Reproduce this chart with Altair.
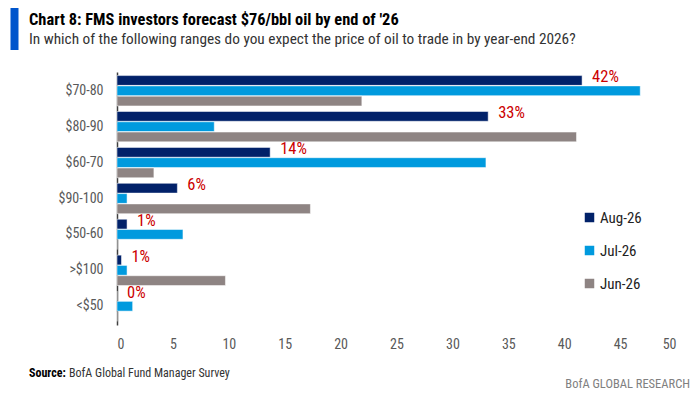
import altair as alt
import pandas as pd

categories = ["$70-80", "$80-90", "$60-70", "$90-100", "$50-60", ">$100", "<$50"]
series = ["Aug-26", "Jul-26", "Jun-26"]
aug = [41.6, 33.2, 13.7, 5.4, 0.9, 0.4, 0.0]
jul = [46.8, 8.7, 33.0, 0.9, 5.9, 0.9, 1.4]
jun = [21.9, 41.1, 3.3, 17.3, 0.0, 9.7, 0.0]
aug_labels = ["42%", "33%", "14%", "6%", "1%", "1%", "0%"]
colors = ["#012169", "#009ADE", "#8E8483"]

title_text = "Chart 8: FMS investors forecast $76/bbl oil by end of '26"
subtitle_text = "In which of the following ranges do you expect the price of oil to trade in by year-end 2026?"

FONT = "Liberation Sans Narrow, Roboto Condensed, Arial Narrow, Liberation Sans, sans-serif"

rows = []
for s, vals in zip(series, [aug, jul, jun]):
    for c, v in zip(categories, vals):
        rows.append({"category": c, "series": s, "value": v})
df = pd.DataFrame(rows)
lab = pd.DataFrame({"category": categories, "series": ["Aug-26"] * len(categories),
                    "value": aug, "label": aug_labels})

y_enc = alt.Y("category:N", sort=categories, title=None,
              scale=alt.Scale(paddingInner=0.155, paddingOuter=0.1),
              axis=alt.Axis(ticks=False, domainColor="#404040", domainWidth=1.5,
                            labelColor="#595959", labelFontSize=14, labelPadding=14,
                            labelFont=FONT))
yoff = alt.YOffset("series:N", sort=series, scale=alt.Scale(paddingInner=0.05))
x_enc = alt.X("value:Q", scale=alt.Scale(domain=[0, 50], nice=False), title=None,
              axis=alt.Axis(values=list(range(0, 51, 5)), grid=False, domain=False,
                            ticks=False, labelPadding=12, labelFontSize=14,
                            labelColor="#595959", labelFont=FONT))

bars = alt.Chart(df).mark_bar(stroke="#ffffff", strokeWidth=0.5).encode(
    y=y_enc, yOffset=yoff, x=x_enc,
    color=alt.Color("series:N", sort=series,
                    scale=alt.Scale(domain=series, range=colors),
                    legend=alt.Legend(title=None, orient="none", legendX=465, legendY=138,
                                      symbolType="square", symbolSize=90,
                                      symbolStrokeWidth=0, labelFontSize=15,
                                      labelFont=FONT, labelColor="#222222",
                                      labelOffset=3, rowPadding=17)),
)

labels = alt.Chart(lab).mark_text(align="left", baseline="middle", dx=10, dy=-3,
                                  color="#CC0000", fontSize=16.5, font=FONT).encode(
    y=alt.Y("category:N", sort=categories), yOffset=alt.YOffset("series:N", sort=series),
    x=alt.X("value:Q"), text="label:N")

one = pd.DataFrame({"a": [1]})
blue_bar = alt.Chart(one).mark_rule(color="#0055CC", strokeWidth=8).encode(
    x=alt.value(-102.5), y=alt.value(-65), y2=alt.value(-22))
ttl = alt.Chart(one).mark_text(text=title_text, align="left", baseline="middle",
                               fontSize=16.4, fontWeight="bold", font=FONT,
                               color="#000000").encode(x=alt.value(-88), y=alt.value(-52))
sub = alt.Chart(one).mark_text(text=subtitle_text, align="left", baseline="middle",
                               fontSize=15.3, font=FONT,
                               color="#333333").encode(x=alt.value(-88), y=alt.value(-33))
src1 = alt.Chart(one).mark_text(text="Source:", align="left", baseline="middle",
                                fontSize=12, fontWeight="bold", font=FONT,
                                color="#000000").encode(x=alt.value(-88), y=alt.value(301))
src2 = alt.Chart(one).mark_text(text="BofA Global Fund Manager Survey", align="left",
                                baseline="middle", fontSize=12, font=FONT,
                                color="#333333").encode(x=alt.value(-48), y=alt.value(301))
brand = alt.Chart(one).mark_text(text="BofA GLOBAL RESEARCH", align="right",
                                 baseline="middle", fontSize=12.5, font=FONT,
                                 color="#808080").encode(x=alt.value(573), y=alt.value(312))

chart = alt.layer(bars, labels, blue_bar, ttl, sub, src1, src2, brand).properties(
    width=559, height=253,
    autosize=alt.AutoSizeParams(type="none"),
    padding={"left": 109, "top": 64, "right": 16, "bottom": 67},
).configure_view(stroke=None)

chart.save("out.html", embed_options={"renderer": "svg", "actions": False})
